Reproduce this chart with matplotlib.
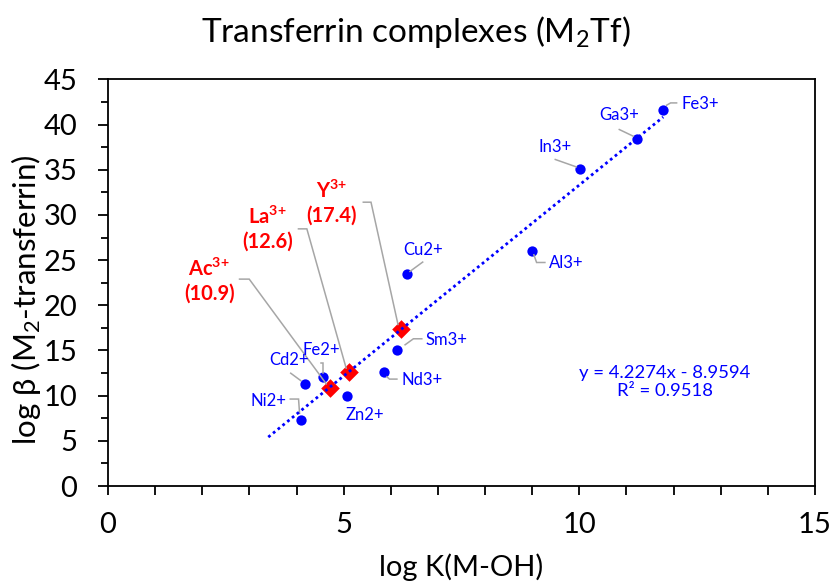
import numpy as np
import matplotlib
matplotlib.use("Agg")
import matplotlib.pyplot as plt
from matplotlib.transforms import ScaledTranslation

plt.rcParams["font.family"] = ["Lato", "DejaVu Sans"]
plt.rcParams["mathtext.fontset"] = "custom"
plt.rcParams["mathtext.rm"] = "Lato"
plt.rcParams["mathtext.bf"] = "Lato:bold"
plt.rcParams["mathtext.default"] = "regular"

# blue points: ions, log K(M-OH), log beta
ions = ["Fe3+", "Ga3+", "In3+", "Al3+", "Cu2+", "Sm3+", "Nd3+",
        "Zn2+", "Fe2+", "Cd2+", "Ni2+"]
log_k = [11.78, 11.23, 10.02, 9.00, 6.35, 6.14, 5.86, 5.07, 4.57, 4.18, 4.10]
log_beta = [41.67, 38.46, 35.10, 26.00, 23.50, 15.00, 12.64, 9.96, 12.10, 11.30, 7.30]

# red predicted points
pred_ions = ["Ac", "La", "Y"]
pred_k = [4.70, 5.11, 6.21]
pred_beta = [10.9, 12.6, 17.4]

# trendline
slope = 4.2274
intercept = -8.9594
r2 = 0.9518
fit_x = [3.4, 11.78]

BLUE = "#0000FF"
RED = "#FF0000"
GREY = "#A6A6A6"

# label offsets in pixels (dx right, dy up) from each point
label_pos = {
    "Fe3+": (36.7, 5.3), "Ga3+": (-18.3, 23.3), "In3+": (-25, 22),
    "Al3+": (34.4, -12), "Cu2+": (15.4, 23.3), "Sm3+": (49.4, 10),
    "Nd3+": (37.7, -8.3), "Zn2+": (17.6, -19), "Fe2+": (-1.6, 26.7),
    "Cd2+": (-15.7, 24), "Ni2+": (-32.7, 19.3),
    "Ac": (-120.3, 106.7), "La": (-81.7, 143.3), "Y": (-68.7, 126.3),
}
leaders = {
    "Fe3+": [(3.4, 4.3), (7.4, 6.6), (13.4, 6.6)],
    "Ga3+": [(-4, 2.3), (-18, 9)],
    "In3+": [(-4, 2), (-25, 9.4)],
    "Al3+": [(1.7, -3.7), (4.4, -11.4), (12.7, -11.4)],
    "Cu2+": [(2.7, 2.3), (15.4, 11.6)],
    "Sm3+": [(7.7, 5.7), (16, 11.7), (24.4, 11.7)],
    "Nd3+": [(2.7, -5), (5.3, -7.3), (12.7, -7.3)],
    "Fe2+": [(0, 3.4), (0, 14), (-2.3, 14)],
    "Cd2+": [(-4.3, 3.3), (-14.3, 10.7)],
    "Ni2+": [(-1.7, 6.7), (-2.7, 21), (-11, 21)],
    "Ac": [(-3.3, 3.7), (-80.3, 108.4), (-90, 108.4)],
    "La": [(-2.7, 4), (-42, 143.3), (-50.4, 143.3)],
    "Y": [(-2.7, 4.3), (-29.7, 126.6), (-37.4, 126.6)],
}

fig = plt.figure(figsize=(8.31, 5.84), dpi=100)
ax = fig.add_axes([0.13, 0.1678, 0.8507, 0.6962])


def px(x, y, dx, dy):
    return ax.transData + ScaledTranslation(dx / 100, dy / 100, fig.dpi_scale_trans)


def leader(x, y, pts):
    # polyline from the point to the label, in pixel offsets
    disp = ax.transData.transform((x, y))
    xs = [disp[0] + p[0] for p in pts]
    ys = [disp[1] + p[1] for p in pts]
    inv = ax.transData.inverted()
    data = inv.transform(np.column_stack([xs, ys]))
    ax.plot(data[:, 0], data[:, 1], color=GREY, lw=1.1, zorder=4,
            solid_joinstyle="miter")


ax.set_xlim(0, 15)
ax.set_ylim(0, 45)

ax.scatter(log_k, log_beta, s=55, color=BLUE, zorder=3, linewidths=0)
ax.scatter(pred_k, pred_beta, s=90, marker="D", color=RED, zorder=3,
           linewidths=0)

fx = np.array(fit_x)
ax.plot(fx, slope * fx + intercept, color=BLUE, lw=2, linestyle=(0, (1, 1.2)),
        zorder=5)

for name, x, y in zip(ions, log_k, log_beta):
    dx, dy = label_pos[name]
    ax.text(x, y, name, color=BLUE, fontsize=12, ha="center", va="center",
            transform=px(x, y, dx, dy), zorder=6)
    if name in leaders:
        leader(x, y, leaders[name])

for name, x, y in zip(pred_ions, pred_k, pred_beta):
    dx, dy = label_pos[name]
    ax.text(x, y, name + r"$^{\mathbf{3{+}}}$" + "\n(%.1f)" % y, color=RED,
            fontsize=14.5, fontweight="bold", ha="center", va="center",
            multialignment="center", linespacing=1.2,
            transform=px(x, y, dx, dy), zorder=6)
    leader(x, y, leaders[name])

ax.text(0.788, 0.256, "y = %.4fx - %.4f\nR² = %.4f" % (slope, -intercept, r2),
        transform=ax.transAxes, color=BLUE, fontsize=13.3, ha="center",
        va="center", multialignment="center", linespacing=1.2)

ax.set_xticks([0, 5, 10, 15])
ax.set_xticks(np.arange(0, 16, 1), minor=True)
ax.set_yticks(np.arange(0, 46, 5))
ax.set_yticks(np.arange(0, 46, 2.5), minor=True)
ax.tick_params(axis="both", which="both", direction="out", color="black",
               width=1.3, labelsize=21)
ax.tick_params(axis="x", which="both", length=6.5, pad=12)
ax.tick_params(axis="y", which="major", length=7.2, pad=15)
ax.tick_params(axis="y", which="minor", length=5)
for s in ax.spines.values():
    s.set_linewidth(1.3)
    s.set_color("black")

ax.set_xlabel("log K(M-OH)", fontsize=21, labelpad=11)
ax.set_ylabel("log β (M$_2$-transferrin)", fontsize=22.5)
ax.yaxis.set_label_coords(-0.092, 0.458)
fig.suptitle("Transferrin complexes (M$_2$Tf)", fontsize=24, y=0.976)

fig.savefig("out.png", dpi=100)
